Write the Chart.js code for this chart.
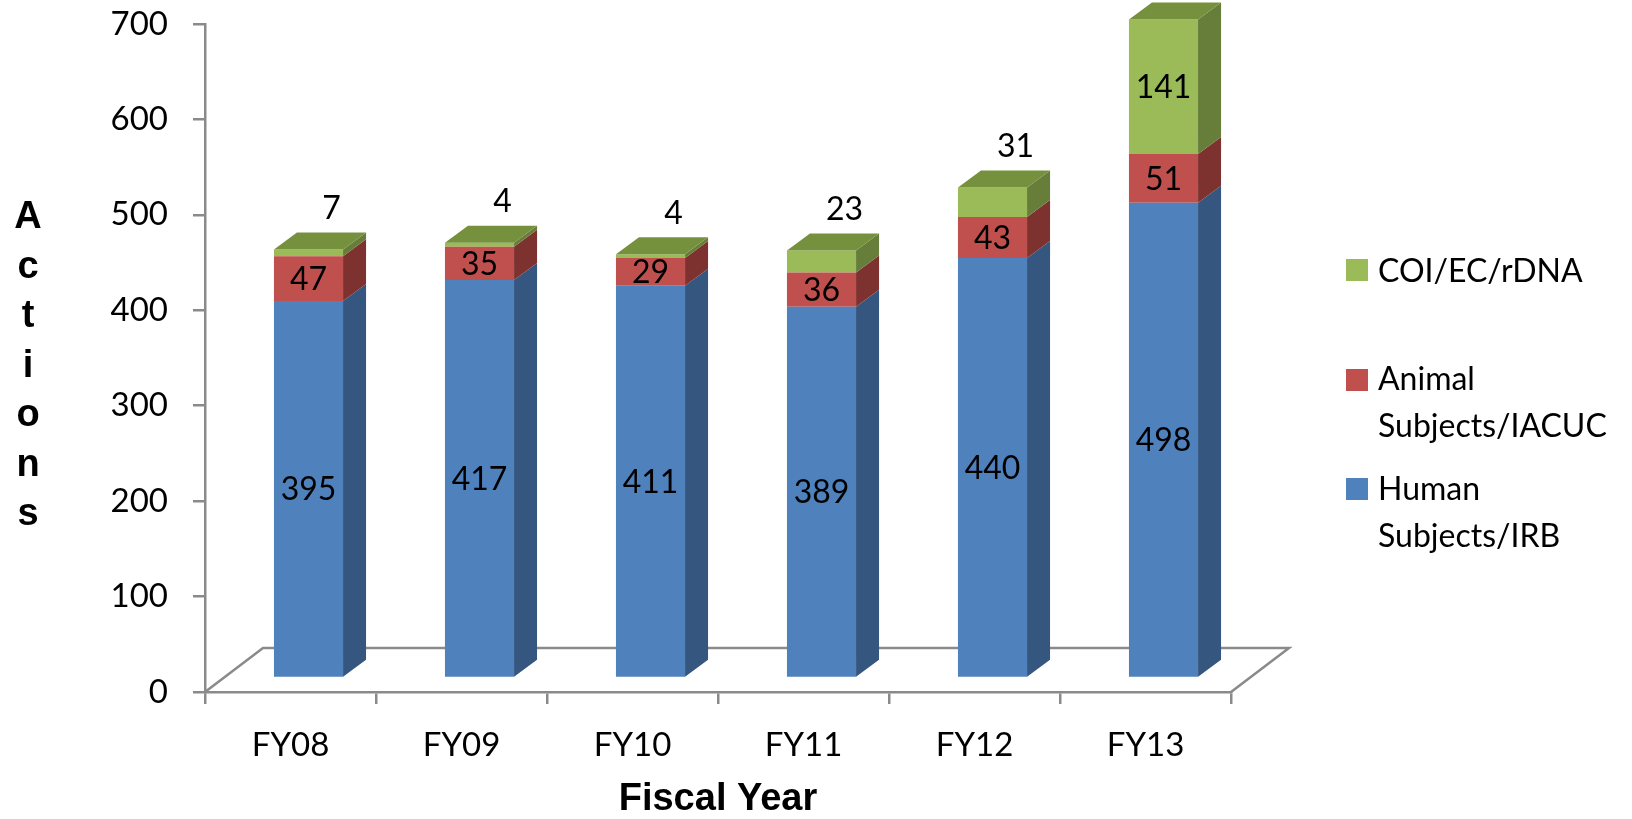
<!DOCTYPE html>
<html>
<head>
<meta charset="utf-8">
<script src="https://cdn.jsdelivr.net/npm/chart.js@4.4.0/dist/chart.umd.min.js"></script>
<style>
  html, body { margin: 0; padding: 0; background: #fff; }
  #wrap { width: 1632px; height: 819px; }
</style>
</head>
<body>
<div id="wrap"><canvas id="chart" width="1632" height="819"></canvas></div>
<script>
// Chart data
const years = ["FY08", "FY09", "FY10", "FY11", "FY12", "FY13"];
const human = [395, 417, 411, 389, 440, 498];
const animal = [47, 35, 29, 36, 43, 51];
const coi = [7, 4, 4, 23, 31, 141];
const yTicks = [0, 100, 200, 300, 400, 500, 600, 700];
const yTitle = ["A", "c", "t", "i", "o", "n", "s"];

// Colors
const colors = {
  human: "#4f81bd", humanSide: "#34567f",
  animal: "#c0504d", animalSide: "#7e3230",
  coi: "#9bbb59", coiSide: "#677e3a", coiTop: "#76913d",
  axis: "#8a8a8a",
  text: "#000",
};

// fake 3D offsets
const depth = { shiftX: 18, shiftY: -14, sideX: 23, sideY: -17, floorX: 58, floorY: -44 };

const calibri = "Lato, 'Noto Sans', sans-serif";
const arialBold = "'Liberation Sans', Arial, sans-serif";

// Floor, bar side faces and tops
const threeD = {
  id: "threeD",
  beforeDatasetsDraw(chart) {
    const { ctx, chartArea: a } = chart;
    ctx.save();
    ctx.strokeStyle = colors.axis;
    ctx.lineWidth = 2.5;
    ctx.beginPath();
    ctx.moveTo(a.left, a.bottom);
    ctx.lineTo(a.left + depth.floorX, a.bottom + depth.floorY);
    ctx.lineTo(a.right + depth.floorX, a.bottom + depth.floorY);
    ctx.lineTo(a.right, a.bottom);
    ctx.stroke();
    ctx.restore();
    // bars sit a bit back on the floor
    ctx.save();
    ctx.translate(depth.shiftX, depth.shiftY);
  },
  afterDatasetsDraw(chart) {
    const ctx = chart.ctx;
    const sx = depth.sideX, sy = depth.sideY;
    const last = chart.data.datasets.length - 1;
    chart.data.datasets.forEach((ds, di) => {
      chart.getDatasetMeta(di).data.forEach((bar) => {
        const { x, y, base, width } = bar.getProps(["x", "y", "base", "width"], true);
        const l = x - width / 2, r = x + width / 2;
        ctx.fillStyle = ds.sideColor;
        ctx.beginPath();
        ctx.moveTo(r, y);
        ctx.lineTo(r + sx, y + sy);
        ctx.lineTo(r + sx, base + sy);
        ctx.lineTo(r, base);
        ctx.closePath();
        ctx.fill();
        if (di === last) {
          ctx.fillStyle = ds.topColor;
          ctx.beginPath();
          ctx.moveTo(l, y);
          ctx.lineTo(r, y);
          ctx.lineTo(r + sx, y + sy);
          ctx.lineTo(l + sx, y + sy);
          ctx.closePath();
          ctx.fill();
        }
      });
    });
    ctx.restore();
  },
};

// Value labels, legend and the stacked y title
const extras = {
  id: "extras",
  afterDraw(chart) {
    const ctx = chart.ctx;
    ctx.save();
    ctx.fillStyle = colors.text;
    ctx.textAlign = "center";
    ctx.textBaseline = "middle";
    ctx.font = "32px " + calibri;
    ctx.translate(depth.shiftX, depth.shiftY);
    const last = chart.data.datasets.length - 1;
    chart.data.datasets.forEach((ds, di) => {
      chart.getDatasetMeta(di).data.forEach((bar, i) => {
        const { x, y, base } = bar.getProps(["x", "y", "base"], true);
        const v = ds.data[i];
        if (di === last && v < 100) {
          ctx.fillText(String(v), x + depth.sideX, y + depth.sideY - 24);
        } else {
          ctx.fillText(String(v), x, (y + base) / 2 + 1);
        }
      });
    });
    ctx.restore();

    // legend (top to bottom: last dataset first)
    ctx.save();
    ctx.font = "32px " + calibri;
    ctx.textBaseline = "alphabetic";
    ctx.textAlign = "left";
    const items = [
      { color: colors.coi, box: 259, lines: ["COI/EC/rDNA"], base: 282 },
      { color: colors.animal, box: 369, lines: ["Animal", "Subjects/IACUC"], base: 390 },
      { color: colors.human, box: 478, lines: ["Human", "Subjects/IRB"], base: 500 },
    ];
    items.forEach((it) => {
      ctx.fillStyle = it.color;
      ctx.fillRect(1346, it.box, 22, 22);
      ctx.fillStyle = colors.text;
      it.lines.forEach((t, k) => ctx.fillText(t, 1378, it.base + k * 47));
    });
    ctx.restore();

    // "Actions", one letter per line
    ctx.save();
    ctx.font = "bold 38px " + arialBold;
    ctx.fillStyle = colors.text;
    ctx.textAlign = "center";
    ctx.textBaseline = "alphabetic";
    yTitle.forEach((ch, k) => ctx.fillText(ch, 28, 228 + k * 49.5));
    ctx.restore();
  },
};

const axisGrid = {
  display: true,
  drawOnChartArea: false,
  drawTicks: true,
  tickLength: 12,
  color: colors.axis,
  lineWidth: 2.5,
};

new Chart(document.getElementById("chart"), {
  type: "bar",
  data: {
    labels: years,
    datasets: [
      { label: "Human Subjects/IRB", data: human, backgroundColor: colors.human, sideColor: colors.humanSide, topColor: colors.human },
      { label: "Animal Subjects/IACUC", data: animal, backgroundColor: colors.animal, sideColor: colors.animalSide, topColor: colors.animal },
      { label: "COI/EC/rDNA", data: coi, backgroundColor: colors.coi, sideColor: colors.coiSide, topColor: colors.coiTop },
    ],
  },
  options: {
    responsive: false,
    animation: false,
    borderWidth: 0,
    categoryPercentage: 1,
    barPercentage: 0.404,
    layout: { padding: { left: 0, right: 401, top: 24, bottom: 0 } },
    plugins: {
      legend: { display: false },
      tooltip: { enabled: false },
    },
    scales: {
      x: {
        stacked: true,
        offset: true,
        grid: { ...axisGrid, offset: true },
        border: { display: true, color: colors.axis, width: 2.5 },
        ticks: { color: colors.text, font: { family: calibri, size: 33 }, padding: 22 },
        title: {
          display: true,
          text: "Fiscal Year",
          color: colors.text,
          font: { family: arialBold, size: 38, weight: "bold", lineHeight: 1 },
          padding: 0,
        },
        afterFit: (s) => { s.height = 127; },
      },
      y: {
        stacked: true,
        min: 0,
        max: 700,
        grid: axisGrid,
        border: { display: true, color: colors.axis, width: 2.5 },
        ticks: { color: colors.text, font: { family: calibri, size: 33 }, padding: 25 },
        afterBuildTicks: (s) => { s.ticks = yTicks.map((v) => ({ value: v })); },
        afterFit: (s) => {
          s.width = 205;
          s.paddingTop = 0;
          s.paddingBottom = 0;
        },
      },
    },
  },
  plugins: [threeD, extras],
});
</script>
</body>
</html>
